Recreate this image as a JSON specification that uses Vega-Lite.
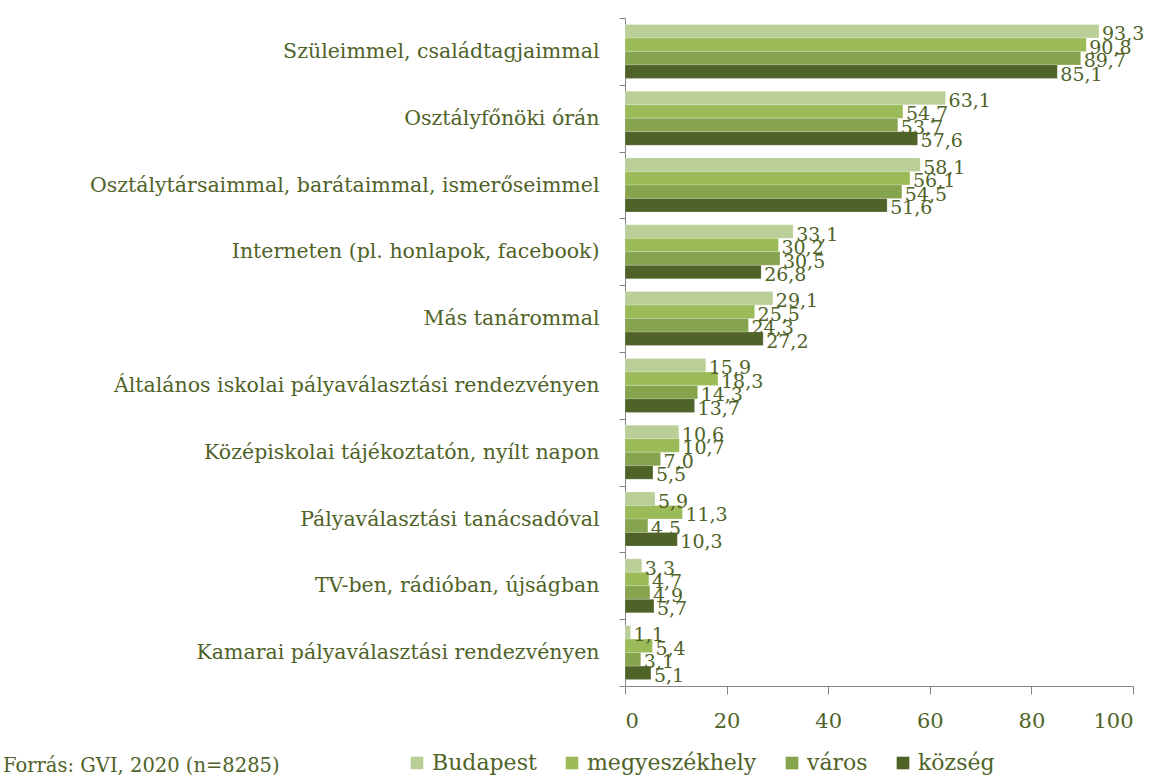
{
  "$schema": "https://vega.github.io/schema/vega-lite/v6.json",
  "width": 508,
  "height": 668,
  "autosize": {"type": "none"},
  "padding": {"left": 625, "top": 18, "right": 27, "bottom": 91},
  "background": "white",
  "config": {
    "view": {"stroke": null},
    "font": "DejaVu Serif",
    "locale": {"number": {"decimal": ",", "thousands": " ", "grouping": [3], "currency": ["", ""]}}
  },
  "title": {
    "text": "Forrás: GVI, 2020 (n=8285)",
    "orient": "bottom",
    "anchor": "start",
    "frame": "group",
    "baseline": "alphabetic",
    "dx": -622,
    "offset": -2,
    "font": "DejaVu Serif",
    "fontSize": 19.5,
    "fontWeight": "normal",
    "color": "#4F6228"
  },
  "data": {
    "values": [
      {"cat": "Szüleimmel, családtagjaimmal", "group": "Budapest", "value": 93.3},
      {"cat": "Szüleimmel, családtagjaimmal", "group": "megyeszékhely", "value": 90.8},
      {"cat": "Szüleimmel, családtagjaimmal", "group": "város", "value": 89.7},
      {"cat": "Szüleimmel, családtagjaimmal", "group": "község", "value": 85.1},
      {"cat": "Osztályfőnöki órán", "group": "Budapest", "value": 63.1},
      {"cat": "Osztályfőnöki órán", "group": "megyeszékhely", "value": 54.7},
      {"cat": "Osztályfőnöki órán", "group": "város", "value": 53.7},
      {"cat": "Osztályfőnöki órán", "group": "község", "value": 57.6},
      {"cat": "Osztálytársaimmal, barátaimmal, ismerőseimmel", "group": "Budapest", "value": 58.1},
      {"cat": "Osztálytársaimmal, barátaimmal, ismerőseimmel", "group": "megyeszékhely", "value": 56.1},
      {"cat": "Osztálytársaimmal, barátaimmal, ismerőseimmel", "group": "város", "value": 54.5},
      {"cat": "Osztálytársaimmal, barátaimmal, ismerőseimmel", "group": "község", "value": 51.6},
      {"cat": "Interneten (pl. honlapok, facebook)", "group": "Budapest", "value": 33.1},
      {"cat": "Interneten (pl. honlapok, facebook)", "group": "megyeszékhely", "value": 30.2},
      {"cat": "Interneten (pl. honlapok, facebook)", "group": "város", "value": 30.5},
      {"cat": "Interneten (pl. honlapok, facebook)", "group": "község", "value": 26.8},
      {"cat": "Más tanárommal", "group": "Budapest", "value": 29.1},
      {"cat": "Más tanárommal", "group": "megyeszékhely", "value": 25.5},
      {"cat": "Más tanárommal", "group": "város", "value": 24.3},
      {"cat": "Más tanárommal", "group": "község", "value": 27.2},
      {"cat": "Általános iskolai pályaválasztási rendezvényen", "group": "Budapest", "value": 15.9},
      {"cat": "Általános iskolai pályaválasztási rendezvényen", "group": "megyeszékhely", "value": 18.3},
      {"cat": "Általános iskolai pályaválasztási rendezvényen", "group": "város", "value": 14.3},
      {"cat": "Általános iskolai pályaválasztási rendezvényen", "group": "község", "value": 13.7},
      {"cat": "Középiskolai tájékoztatón, nyílt napon", "group": "Budapest", "value": 10.6},
      {"cat": "Középiskolai tájékoztatón, nyílt napon", "group": "megyeszékhely", "value": 10.7},
      {"cat": "Középiskolai tájékoztatón, nyílt napon", "group": "város", "value": 7.0},
      {"cat": "Középiskolai tájékoztatón, nyílt napon", "group": "község", "value": 5.5},
      {"cat": "Pályaválasztási tanácsadóval", "group": "Budapest", "value": 5.9},
      {"cat": "Pályaválasztási tanácsadóval", "group": "megyeszékhely", "value": 11.3},
      {"cat": "Pályaválasztási tanácsadóval", "group": "város", "value": 4.5},
      {"cat": "Pályaválasztási tanácsadóval", "group": "község", "value": 10.3},
      {"cat": "TV-ben, rádióban, újságban", "group": "Budapest", "value": 3.3},
      {"cat": "TV-ben, rádióban, újságban", "group": "megyeszékhely", "value": 4.7},
      {"cat": "TV-ben, rádióban, újságban", "group": "város", "value": 4.9},
      {"cat": "TV-ben, rádióban, újságban", "group": "község", "value": 5.7},
      {"cat": "Kamarai pályaválasztási rendezvényen", "group": "Budapest", "value": 1.1},
      {"cat": "Kamarai pályaválasztási rendezvényen", "group": "megyeszékhely", "value": 5.4},
      {"cat": "Kamarai pályaválasztási rendezvényen", "group": "város", "value": 3.1},
      {"cat": "Kamarai pályaválasztási rendezvényen", "group": "község", "value": 5.1}
    ]
  },
  "encoding": {
    "y": {
      "field": "cat",
      "type": "nominal",
      "sort": null,
      "scale": {"paddingInner": 0, "paddingOuter": 0},
      "axis": {
        "title": null,
        "tickBand": "extent",
        "domainColor": "#868686",
        "tickColor": "#868686",
        "tickSize": 6,
        "labelPadding": 20,
        "labelFontSize": 20.5,
        "labelColor": "#4F6228",
        "labelLimit": 600,
        "labelFont": "DejaVu Serif"
      }
    },
    "yOffset": {
      "field": "group",
      "type": "nominal",
      "sort": ["Budapest", "megyeszékhely", "város", "község"],
      "scale": {"paddingInner": 0, "paddingOuter": 0.475}
    },
    "x": {
      "field": "value",
      "type": "quantitative",
      "scale": {"domain": [0, 100], "nice": false},
      "axis": {
        "title": null,
        "values": [0, 20, 40, 60, 80, 100],
        "grid": false,
        "domainColor": "#868686",
        "tickColor": "#868686",
        "tickSize": 8,
        "labelPadding": 16,
        "labelFontSize": 21,
        "labelColor": "#4F6228",
        "labelFont": "DejaVu Serif"
      }
    }
  },
  "layer": [
    {
      "mark": {"type": "bar", "stroke": "white", "strokeWidth": 0.5, "strokeOpacity": 0.4},
      "encoding": {
        "color": {
          "field": "group",
          "type": "nominal",
          "sort": ["Budapest", "megyeszékhely", "város", "község"],
          "scale": {
            "domain": ["Budapest", "megyeszékhely", "város", "község"],
            "range": ["#BACF98", "#9BBB59", "#86A34D", "#4F6228"]
          },
          "legend": {
            "title": null,
            "orient": "none",
            "direction": "horizontal",
            "legendX": -219,
            "legendY": 734,
            "symbolType": "square",
            "symbolSize": 160,
            "symbolStrokeWidth": 0,
            "labelFontSize": 22,
            "labelLimit": 300,
            "labelColor": "#4F6228",
            "labelFont": "DejaVu Serif",
            "labelOffset": 4,
            "columnPadding": 24
          }
        }
      }
    },
    {
      "mark": {"type": "text", "align": "left", "baseline": "middle", "dx": 3, "dy": 3, "fontSize": 19, "color": "#4F6228", "font": "DejaVu Serif"},
      "encoding": {
        "text": {"field": "value", "type": "quantitative", "format": ".1f"}
      }
    }
  ]
}
